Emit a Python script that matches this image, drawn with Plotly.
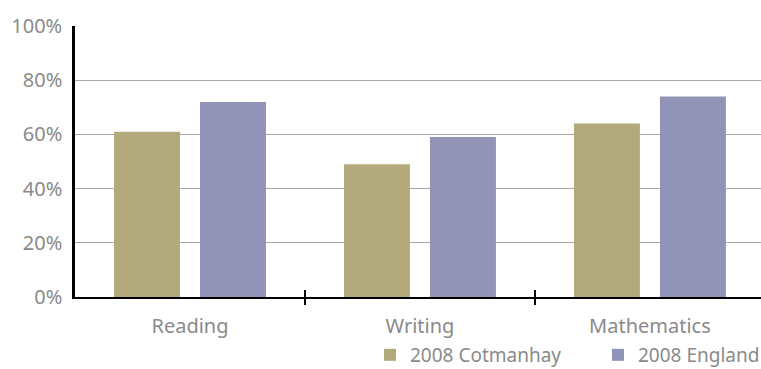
import plotly.graph_objects as go

subjects = ["Reading", "Writing", "Mathematics"]
cotmanhay = [61, 49, 64]
england = [72, 59, 74]
y_ticks = [0, 20, 40, 60, 80, 100]
y_tick_labels = ["0%", "20%", "40%", "60%", "80%", "100%"]
# boundaries between the subject groups, where the divider ticks sit
group_boundaries = [0.5, 1.5]

font_family = "Noto Sans"
label_grey = "#8a8a8a"
text_size = 20
x_range = [-0.5, 2.483]

fig = go.Figure()
fig.add_trace(go.Bar(name="2008 Cotmanhay", x=subjects, y=cotmanhay,
                     legend="legend",
                     marker=dict(color="#b2aa7c", line=dict(width=0))))
fig.add_trace(go.Bar(name="2008 England", x=subjects, y=england,
                     legend="legend2",
                     marker=dict(color="#9194b6", line=dict(width=0))))

# empty traces on twin axes: divider ticks above and below the baseline
for ax in ("x2", "x3"):
    fig.add_trace(go.Scatter(x=[None], y=[None], xaxis=ax, showlegend=False,
                             hoverinfo="skip", mode="markers"))

divider = dict(
    type="linear", range=x_range, overlaying="x", anchor="y",
    tickvals=group_boundaries, ticklen=7, tickwidth=2, tickcolor="black",
    showticklabels=False, showgrid=False, showline=False, zeroline=False,
)

legend_style = dict(
    orientation="h", xref="container", yref="container",
    xanchor="left", y=0.038, yanchor="middle",
    font=dict(size=19, color=label_grey),
    bgcolor="rgba(0,0,0,0)",
)

fig.update_layout(
    width=761, height=369,
    margin=dict(l=75, r=0, t=26, b=72, autoexpand=False),
    paper_bgcolor="white", plot_bgcolor="white",
    barmode="group", bargap=0.252, bargroupgap=0.233,
    font=dict(family=font_family, size=text_size, color=label_grey),
    xaxis=dict(
        type="category", range=x_range,
        showline=True, linecolor="black", linewidth=2,
        ticks="", ticklabelstandoff=10, showgrid=False, zeroline=False,
        tickfont=dict(size=text_size, color=label_grey),
    ),
    xaxis2=dict(divider, ticks="outside"),
    xaxis3=dict(divider, ticks="inside"),
    yaxis=dict(
        range=[0, 100], tickvals=y_ticks, ticktext=y_tick_labels,
        showline=True, linecolor="black", linewidth=2.5,
        showgrid=True, gridcolor="#a8a8a8", gridwidth=1.3,
        zeroline=False, ticks="", ticklabelstandoff=6,
        tickfont=dict(size=text_size, color=label_grey),
    ),
    legend=dict(legend_style, x=370 / 761),
    legend2=dict(legend_style, x=598 / 761),
)

fig.write_html("out.html")
